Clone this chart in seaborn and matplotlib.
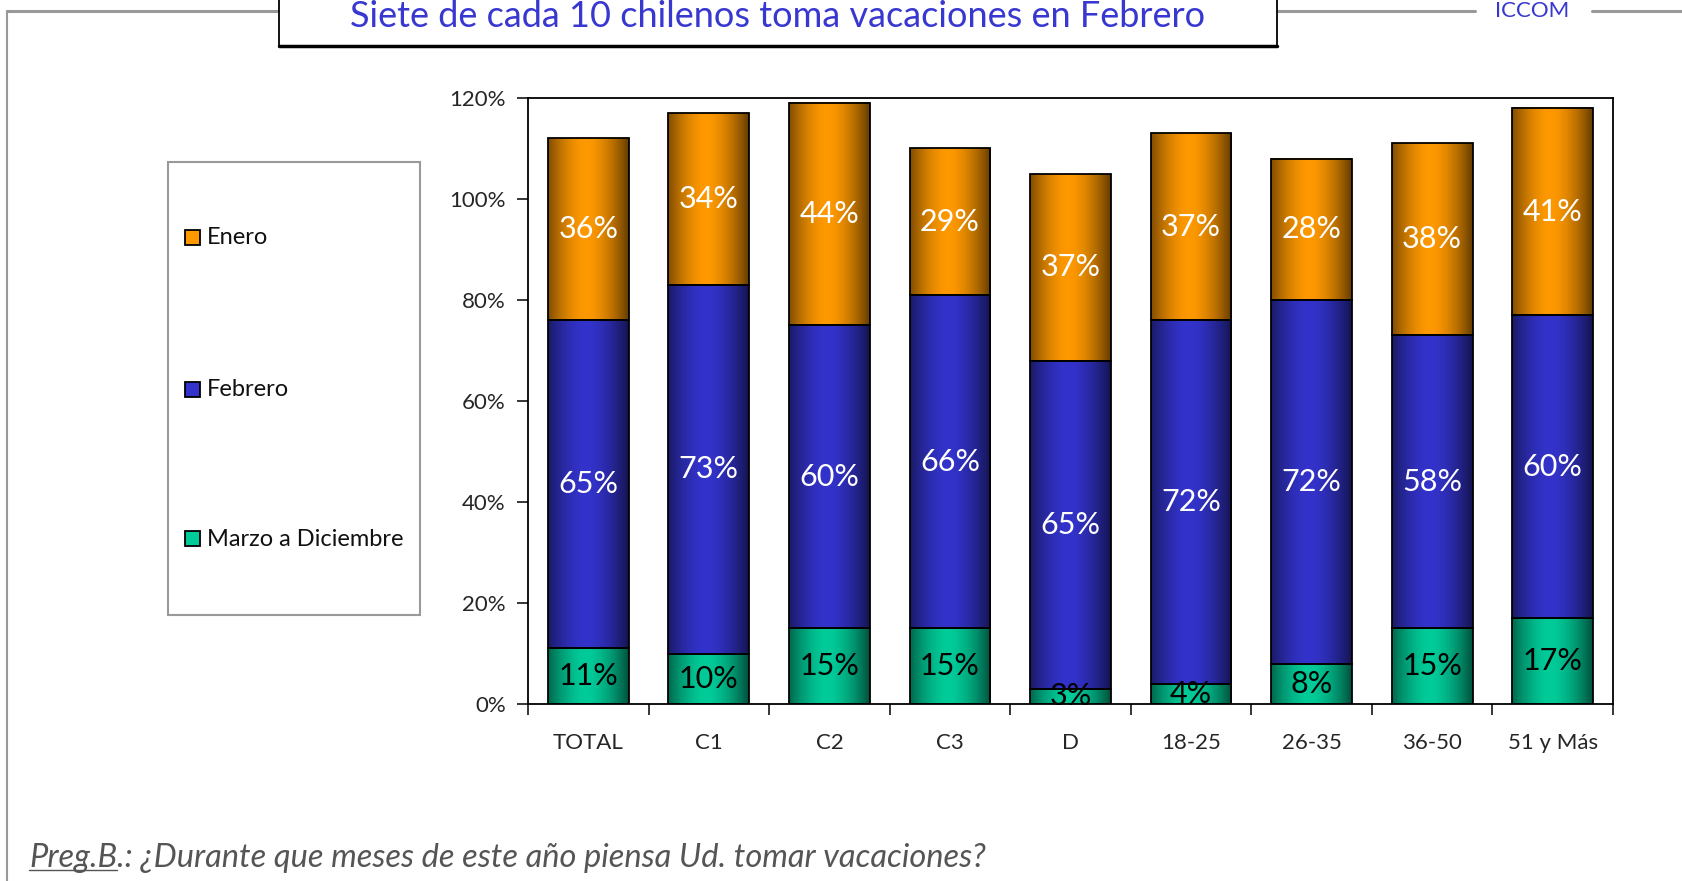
import numpy as np
import matplotlib
matplotlib.use("Agg")
import matplotlib.pyplot as plt
import seaborn as sns
from matplotlib.patches import Rectangle
from matplotlib.lines import Line2D
from matplotlib.colors import to_rgb

sns.set_style("ticks")
plt.rcParams['font.family'] = ['Lato', 'DejaVu Sans']

# datos
categorias = ["TOTAL", "C1", "C2", "C3", "D", "18-25", "26-35", "36-50", "51 y Más"]
marzo_dic = [11, 10, 15, 15, 3, 4, 8, 15, 17]
febrero = [65, 73, 60, 66, 65, 72, 72, 58, 60]
enero = [36, 34, 44, 29, 37, 37, 28, 38, 41]
series = ["Marzo a Diciembre", "Febrero", "Enero"]
colores = {"Enero": "#FF9900", "Febrero": "#3333CC", "Marzo a Diciembre": "#00CC99"}
color_texto = {"Enero": "white", "Febrero": "white", "Marzo a Diciembre": "black"}
yticks = [0, 20, 40, 60, 80, 100, 120]

titulo = "Siete de cada 10 chilenos toma vacaciones en Febrero"
nota_a = "Preg.B"
nota_b = ".: ¿Durante que meses de este año piensa Ud. tomar vacaciones?"

W, H = 1683, 881
def fx(px):
    return px / W
def fy(py):
    return 1 - py / H

fig = plt.figure(figsize=(W / 100, H / 100), dpi=100)
ax = fig.add_axes([fx(528), fy(704), (1613 - 528) / W, (704 - 98) / H])

valores = {"Marzo a Diciembre": marzo_dic, "Febrero": febrero, "Enero": enero}
base = np.zeros(len(categorias))
barras = {}
for s in series:
    v = np.array(valores[s], dtype=float)
    sns.barplot(x=categorias, y=v, bottom=base, color=colores[s], width=0.67,
                edgecolor="black", linewidth=1.3, saturation=1, ax=ax)
    barras[s] = ax.containers[-1]
    for i, val in enumerate(v):
        ax.text(i, base[i] + val / 2, f"{int(val)}%", ha="center", va="center",
                fontsize=22, color=color_texto[s], zorder=5)
    base = base + v

# degradado horizontal en cada barra
t = np.linspace(0, 1, 64)
perfil = 1 - 0.6 * np.clip(np.abs(t - 0.47) / 0.53, 0, 1) ** 1.7
for s in series:
    c = np.array(to_rgb(colores[s]))
    img = (perfil[:, None] * c[None, :])[None, :, :]
    for p in barras[s]:
        x0, y0 = p.get_x(), p.get_y()
        w, h = p.get_width(), p.get_height()
        ax.imshow(img, extent=[x0, x0 + w, y0, y0 + h], aspect="auto",
                  interpolation="bilinear", zorder=1)
        p.set_facecolor("none")
        p.set_zorder(2)

ax.set_xlim(-0.5, len(categorias) - 0.5)
ax.set_ylim(0, 120)
ax.set_yticks(yticks)
ax.set_yticklabels([f"{v}%" for v in yticks], fontsize=16)
ax.set_xticks(range(len(categorias)))
ax.set_xticklabels(categorias, fontsize=16)
ax.set_xticks(np.arange(-0.5, len(categorias), 1), minor=True)
ax.tick_params(axis="x", which="major", length=0, pad=21)
ax.tick_params(axis="x", which="minor", length=8, width=1.3, direction="out")
ax.tick_params(axis="y", length=8, width=1.3, direction="out", pad=8)
for sp in ax.spines.values():
    sp.set_visible(True)
    sp.set_linewidth(1.3)
    sp.set_color("black")
ax.set_xlabel("")
ax.set_ylabel("")

# leyenda
fig.patches.append(Rectangle((fx(168), fy(615)), (420 - 168) / W, (615 - 162) / H,
                             transform=fig.transFigure, facecolor="white",
                             edgecolor="#999999", lw=1.5))
for s, yy in zip(["Enero", "Febrero", "Marzo a Diciembre"], [238, 390, 539]):
    fig.patches.append(Rectangle((fx(185), fy(yy + 7)), 15 / W, 15 / H,
                                 transform=fig.transFigure, facecolor=colores[s],
                                 edgecolor="black", lw=1.3))
    fig.text(fx(207), fy(yy), s, fontsize=17, va="center", ha="left", color="#111111")

# marco
gris = "#999999"
for x0, x1 in [(7, 279), (1277, 1475), (1592, 1683)]:
    fig.add_artist(Line2D([fx(x0), fx(x1)], [fy(11), fy(11)], color=gris, lw=2.2,
                          transform=fig.transFigure))
fig.add_artist(Line2D([fx(7), fx(7)], [fy(11), fy(881)], color=gris, lw=1.5,
                      transform=fig.transFigure))

# caja del titulo
fig.patches.append(Rectangle((fx(279), fy(46)), (1277 - 279) / W, 60 / H,
                             transform=fig.transFigure, facecolor="white",
                             edgecolor="black", lw=1.3, zorder=3))
fig.add_artist(Line2D([fx(279), fx(1277)], [fy(46), fy(46)], color="black", lw=2.5,
                      transform=fig.transFigure, zorder=4))
fig.text(fx(778), fy(27), titulo, ha="center", va="baseline", fontsize=26,
         color="#3838D0", zorder=5)
fig.text(fx(1532), fy(17), "ICCOM", ha="center", va="baseline", fontsize=16,
         color="#3838D0")

# nota al pie
ta = fig.text(fx(29), fy(867), nota_a, ha="left", va="baseline", fontsize=23.5,
              style="italic", color="#555555")
fig.canvas.draw()
bb = ta.get_window_extent(renderer=fig.canvas.get_renderer())
fig.text(bb.x1 / W, fy(867), nota_b, ha="left", va="baseline", fontsize=23.5,
         style="italic", color="#555555")
fig.add_artist(Line2D([bb.x0 / W, bb.x1 / W], [fy(870), fy(870)], color="#555555",
                      lw=1.0, transform=fig.transFigure))

fig.savefig("out.png", dpi=100)
plt.close()
